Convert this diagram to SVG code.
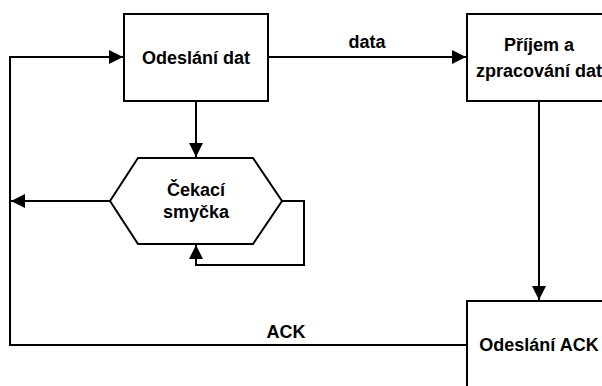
<svg xmlns="http://www.w3.org/2000/svg" width="602" height="386" viewBox="0 0 602 386">
<style>
.n{fill:#fff;stroke:#000;stroke-width:2}
.c{fill:none;stroke:#000;stroke-width:2}
text{font-family:"Liberation Sans",Arial,sans-serif;font-weight:bold;font-size:18px;fill:#000;text-anchor:middle}
</style>
<defs>
<marker id="b" viewBox="0 0 12 12" refX="12" refY="6" markerWidth="15" markerHeight="14" markerUnits="userSpaceOnUse" orient="auto">
<path d="M0,0 L12,6 L0,12 Z" fill="#000"/>
</marker>
</defs>
<g id="connectors">
<path class="c" d="M268,57 H466" marker-end="url(#b)"/>
<path class="c" d="M196,101 V157" marker-end="url(#b)"/>
<path class="c" d="M539,101 V300" marker-end="url(#b)"/>
<path class="c" d="M467,345 H10 V57 H123" marker-end="url(#b)"/>
<path class="c" d="M110,201 H11" marker-end="url(#b)"/>
<path class="c" d="M282,201 H304 V265 H196 V245" marker-end="url(#b)"/>
<text x="367" y="48">data</text>
<text x="286" y="338">ACK</text>
</g>
<g id="odeslani-dat">
<rect class="n" x="124" y="14" width="144" height="87"/>
<text x="196" y="64">Odeslání dat</text>
</g>
<g id="prijem">
<rect class="n" x="467" y="14" width="144" height="87"/>
<text x="539" y="51">Příjem a</text>
<text x="539" y="77">zpracování dat</text>
</g>
<g id="cekaci">
<polygon class="n" points="110,201 138,158 253,158 282,201 253,244 138,244"/>
<text x="196" y="196">Čekací</text>
<text x="196" y="218">smyčka</text>
</g>
<g id="odeslani-ack">
<rect class="n" x="467" y="301" width="144" height="95"/>
<text x="539" y="351">Odeslání ACK</text>
</g>
</svg>
